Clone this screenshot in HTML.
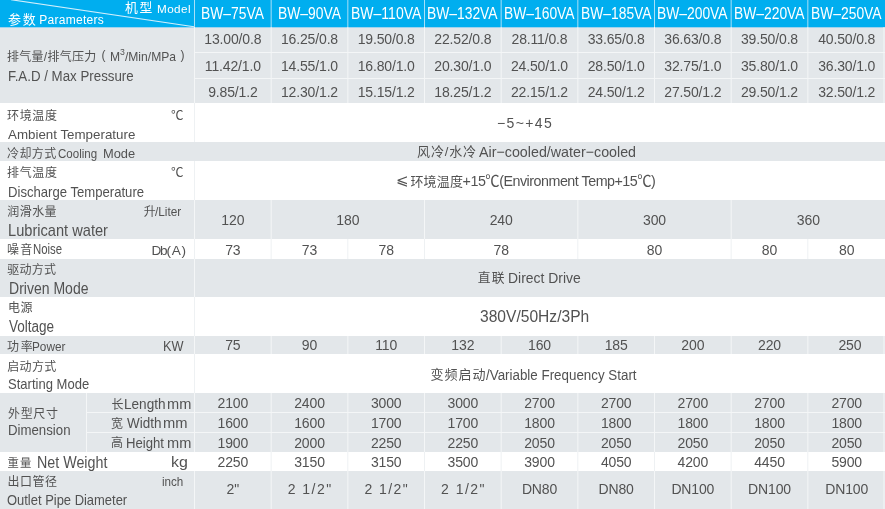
<!DOCTYPE html>
<html><head><meta charset="utf-8"><title>BW VA Parameters</title>
<style>
html,body{margin:0;padding:0;background:#fff;}
#p{position:relative;width:885px;height:509px;overflow:hidden;background:#fff;font-family:"Liberation Sans","Noto Sans CJK SC",sans-serif;}
.r{position:absolute;}
.t{position:absolute;white-space:nowrap;}
.n{font-family:"Noto Sans CJK SC",sans-serif;}
.c{}
sup{font-size:0.72em;line-height:0;vertical-align:0.62em;}
</style></head><body><div id="p">
<div class="r" style="left:0px;top:0px;width:885px;height:27px;background:#00aeef"></div>
<div class="r" style="left:0px;top:27px;width:885px;height:76px;background:#e3e7ea"></div>
<div class="r" style="left:0px;top:142px;width:885px;height:19px;background:#e3e7ea"></div>
<div class="r" style="left:0px;top:200px;width:885px;height:39px;background:#e3e7ea"></div>
<div class="r" style="left:0px;top:259px;width:885px;height:38px;background:#e3e7ea"></div>
<div class="r" style="left:0px;top:336px;width:885px;height:18px;background:#e3e7ea"></div>
<div class="r" style="left:0px;top:393px;width:885px;height:59px;background:#e3e7ea"></div>
<div class="r" style="left:0px;top:471px;width:885px;height:38px;background:#e3e7ea"></div>
<div class="r" style="left:195px;top:52px;width:690px;height:1px;background:#f4f6f7"></div>
<div class="r" style="left:0px;top:27px;width:885px;height:1px;background:#9fd3ee"></div>
<div class="r" style="left:195px;top:78px;width:690px;height:1px;background:#f4f6f7"></div>
<div class="r" style="left:87px;top:412px;width:798px;height:1px;background:#f4f6f7"></div>
<div class="r" style="left:87px;top:432px;width:798px;height:1px;background:#f4f6f7"></div>
<svg class="r" style="left:0;top:0" width="885" height="509" stroke-width="1"><line x1="194.50" y1="0" x2="194.50" y2="27" stroke="#a8e0f8"/><line x1="271.17" y1="0" x2="271.17" y2="27" stroke="#a8e0f8"/><line x1="347.83" y1="0" x2="347.83" y2="27" stroke="#a8e0f8"/><line x1="424.50" y1="0" x2="424.50" y2="27" stroke="#a8e0f8"/><line x1="501.17" y1="0" x2="501.17" y2="27" stroke="#a8e0f8"/><line x1="577.83" y1="0" x2="577.83" y2="27" stroke="#a8e0f8"/><line x1="654.50" y1="0" x2="654.50" y2="27" stroke="#a8e0f8"/><line x1="731.17" y1="0" x2="731.17" y2="27" stroke="#a8e0f8"/><line x1="807.83" y1="0" x2="807.83" y2="27" stroke="#a8e0f8"/><line x1="194.50" y1="27" x2="194.50" y2="103" stroke="#f4f6f7"/><line x1="271.17" y1="27" x2="271.17" y2="103" stroke="#f4f6f7"/><line x1="347.83" y1="27" x2="347.83" y2="103" stroke="#f4f6f7"/><line x1="424.50" y1="27" x2="424.50" y2="103" stroke="#f4f6f7"/><line x1="501.17" y1="27" x2="501.17" y2="103" stroke="#f4f6f7"/><line x1="577.83" y1="27" x2="577.83" y2="103" stroke="#f4f6f7"/><line x1="654.50" y1="27" x2="654.50" y2="103" stroke="#f4f6f7"/><line x1="731.17" y1="27" x2="731.17" y2="103" stroke="#f4f6f7"/><line x1="807.83" y1="27" x2="807.83" y2="103" stroke="#f4f6f7"/><line x1="194.50" y1="103" x2="194.50" y2="142" stroke="#eef1f3"/><line x1="194.50" y1="161" x2="194.50" y2="200" stroke="#eef1f3"/><line x1="194.50" y1="200" x2="194.50" y2="239" stroke="#f4f6f7"/><line x1="271.17" y1="200" x2="271.17" y2="239" stroke="#f4f6f7"/><line x1="424.50" y1="200" x2="424.50" y2="239" stroke="#f4f6f7"/><line x1="577.83" y1="200" x2="577.83" y2="239" stroke="#f4f6f7"/><line x1="731.17" y1="200" x2="731.17" y2="239" stroke="#f4f6f7"/><line x1="194.50" y1="239" x2="194.50" y2="259" stroke="#eef1f3"/><line x1="271.17" y1="239" x2="271.17" y2="259" stroke="#eef1f3"/><line x1="347.83" y1="239" x2="347.83" y2="259" stroke="#eef1f3"/><line x1="424.50" y1="239" x2="424.50" y2="259" stroke="#eef1f3"/><line x1="577.83" y1="239" x2="577.83" y2="259" stroke="#eef1f3"/><line x1="731.17" y1="239" x2="731.17" y2="259" stroke="#eef1f3"/><line x1="807.83" y1="239" x2="807.83" y2="259" stroke="#eef1f3"/><line x1="194.50" y1="259" x2="194.50" y2="297" stroke="#f4f6f7"/><line x1="194.50" y1="297" x2="194.50" y2="336" stroke="#eef1f3"/><line x1="194.50" y1="336" x2="194.50" y2="354" stroke="#f4f6f7"/><line x1="271.17" y1="336" x2="271.17" y2="354" stroke="#f4f6f7"/><line x1="347.83" y1="336" x2="347.83" y2="354" stroke="#f4f6f7"/><line x1="424.50" y1="336" x2="424.50" y2="354" stroke="#f4f6f7"/><line x1="501.17" y1="336" x2="501.17" y2="354" stroke="#f4f6f7"/><line x1="577.83" y1="336" x2="577.83" y2="354" stroke="#f4f6f7"/><line x1="654.50" y1="336" x2="654.50" y2="354" stroke="#f4f6f7"/><line x1="731.17" y1="336" x2="731.17" y2="354" stroke="#f4f6f7"/><line x1="807.83" y1="336" x2="807.83" y2="354" stroke="#f4f6f7"/><line x1="194.50" y1="354" x2="194.50" y2="393" stroke="#eef1f3"/><line x1="194.50" y1="393" x2="194.50" y2="452" stroke="#f4f6f7"/><line x1="271.17" y1="393" x2="271.17" y2="452" stroke="#f4f6f7"/><line x1="347.83" y1="393" x2="347.83" y2="452" stroke="#f4f6f7"/><line x1="424.50" y1="393" x2="424.50" y2="452" stroke="#f4f6f7"/><line x1="501.17" y1="393" x2="501.17" y2="452" stroke="#f4f6f7"/><line x1="577.83" y1="393" x2="577.83" y2="452" stroke="#f4f6f7"/><line x1="654.50" y1="393" x2="654.50" y2="452" stroke="#f4f6f7"/><line x1="731.17" y1="393" x2="731.17" y2="452" stroke="#f4f6f7"/><line x1="807.83" y1="393" x2="807.83" y2="452" stroke="#f4f6f7"/><line x1="86.5" y1="393" x2="86.5" y2="452" stroke="#f4f6f7"/><line x1="271.17" y1="452" x2="271.17" y2="471" stroke="#eef1f3"/><line x1="347.83" y1="452" x2="347.83" y2="471" stroke="#eef1f3"/><line x1="424.50" y1="452" x2="424.50" y2="471" stroke="#eef1f3"/><line x1="501.17" y1="452" x2="501.17" y2="471" stroke="#eef1f3"/><line x1="577.83" y1="452" x2="577.83" y2="471" stroke="#eef1f3"/><line x1="654.50" y1="452" x2="654.50" y2="471" stroke="#eef1f3"/><line x1="731.17" y1="452" x2="731.17" y2="471" stroke="#eef1f3"/><line x1="807.83" y1="452" x2="807.83" y2="471" stroke="#eef1f3"/><line x1="194.50" y1="471" x2="194.50" y2="509" stroke="#f4f6f7"/><line x1="271.17" y1="471" x2="271.17" y2="509" stroke="#f4f6f7"/><line x1="347.83" y1="471" x2="347.83" y2="509" stroke="#f4f6f7"/><line x1="424.50" y1="471" x2="424.50" y2="509" stroke="#f4f6f7"/><line x1="501.17" y1="471" x2="501.17" y2="509" stroke="#f4f6f7"/><line x1="577.83" y1="471" x2="577.83" y2="509" stroke="#f4f6f7"/><line x1="654.50" y1="471" x2="654.50" y2="509" stroke="#f4f6f7"/><line x1="731.17" y1="471" x2="731.17" y2="509" stroke="#f4f6f7"/><line x1="807.83" y1="471" x2="807.83" y2="509" stroke="#f4f6f7"/><line x1="884" y1="27" x2="884" y2="103" stroke="#f4f6f7"/><line x1="884" y1="336" x2="884" y2="354" stroke="#f4f6f7"/><line x1="884" y1="393" x2="884" y2="452" stroke="#f4f6f7"/><line x1="884" y1="471" x2="884" y2="509" stroke="#f4f6f7"/><line x1="11" y1="-0.3" x2="194" y2="26.8" stroke="#d2effc" stroke-width="1.1"/></svg>
<div class="t" style="left:82.83px;width:300px;top:32px;font-size:14px;line-height:14px;color:#525252;text-align:center;letter-spacing:-0.15px">13.00/0.8</div>
<div class="t" style="left:159.50px;width:300px;top:32px;font-size:14px;line-height:14px;color:#525252;text-align:center;letter-spacing:-0.15px">16.25/0.8</div>
<div class="t" style="left:236.17px;width:300px;top:32px;font-size:14px;line-height:14px;color:#525252;text-align:center;letter-spacing:-0.15px">19.50/0.8</div>
<div class="t" style="left:312.83px;width:300px;top:32px;font-size:14px;line-height:14px;color:#525252;text-align:center;letter-spacing:-0.15px">22.52/0.8</div>
<div class="t" style="left:389.50px;width:300px;top:32px;font-size:14px;line-height:14px;color:#525252;text-align:center;letter-spacing:-0.15px">28.11/0.8</div>
<div class="t" style="left:466.17px;width:300px;top:32px;font-size:14px;line-height:14px;color:#525252;text-align:center;letter-spacing:-0.15px">33.65/0.8</div>
<div class="t" style="left:542.83px;width:300px;top:32px;font-size:14px;line-height:14px;color:#525252;text-align:center;letter-spacing:-0.15px">36.63/0.8</div>
<div class="t" style="left:619.50px;width:300px;top:32px;font-size:14px;line-height:14px;color:#525252;text-align:center;letter-spacing:-0.15px">39.50/0.8</div>
<div class="t" style="left:696.67px;width:300px;top:32px;font-size:14px;line-height:14px;color:#525252;text-align:center;letter-spacing:-0.15px">40.50/0.8</div>
<div class="t" style="left:82.83px;width:300px;top:59px;font-size:14px;line-height:14px;color:#525252;text-align:center;letter-spacing:-0.15px">11.42/1.0</div>
<div class="t" style="left:159.50px;width:300px;top:59px;font-size:14px;line-height:14px;color:#525252;text-align:center;letter-spacing:-0.15px">14.55/1.0</div>
<div class="t" style="left:236.17px;width:300px;top:59px;font-size:14px;line-height:14px;color:#525252;text-align:center;letter-spacing:-0.15px">16.80/1.0</div>
<div class="t" style="left:312.83px;width:300px;top:59px;font-size:14px;line-height:14px;color:#525252;text-align:center;letter-spacing:-0.15px">20.30/1.0</div>
<div class="t" style="left:389.50px;width:300px;top:59px;font-size:14px;line-height:14px;color:#525252;text-align:center;letter-spacing:-0.15px">24.50/1.0</div>
<div class="t" style="left:466.17px;width:300px;top:59px;font-size:14px;line-height:14px;color:#525252;text-align:center;letter-spacing:-0.15px">28.50/1.0</div>
<div class="t" style="left:542.83px;width:300px;top:59px;font-size:14px;line-height:14px;color:#525252;text-align:center;letter-spacing:-0.15px">32.75/1.0</div>
<div class="t" style="left:619.50px;width:300px;top:59px;font-size:14px;line-height:14px;color:#525252;text-align:center;letter-spacing:-0.15px">35.80/1.0</div>
<div class="t" style="left:696.67px;width:300px;top:59px;font-size:14px;line-height:14px;color:#525252;text-align:center;letter-spacing:-0.15px">36.30/1.0</div>
<div class="t" style="left:82.83px;width:300px;top:85px;font-size:14px;line-height:14px;color:#525252;text-align:center;letter-spacing:-0.15px">9.85/1.2</div>
<div class="t" style="left:159.50px;width:300px;top:85px;font-size:14px;line-height:14px;color:#525252;text-align:center;letter-spacing:-0.15px">12.30/1.2</div>
<div class="t" style="left:236.17px;width:300px;top:85px;font-size:14px;line-height:14px;color:#525252;text-align:center;letter-spacing:-0.15px">15.15/1.2</div>
<div class="t" style="left:312.83px;width:300px;top:85px;font-size:14px;line-height:14px;color:#525252;text-align:center;letter-spacing:-0.15px">18.25/1.2</div>
<div class="t" style="left:389.50px;width:300px;top:85px;font-size:14px;line-height:14px;color:#525252;text-align:center;letter-spacing:-0.15px">22.15/1.2</div>
<div class="t" style="left:466.17px;width:300px;top:85px;font-size:14px;line-height:14px;color:#525252;text-align:center;letter-spacing:-0.15px">24.50/1.2</div>
<div class="t" style="left:542.83px;width:300px;top:85px;font-size:14px;line-height:14px;color:#525252;text-align:center;letter-spacing:-0.15px">27.50/1.2</div>
<div class="t" style="left:619.50px;width:300px;top:85px;font-size:14px;line-height:14px;color:#525252;text-align:center;letter-spacing:-0.15px">29.50/1.2</div>
<div class="t" style="left:696.67px;width:300px;top:85px;font-size:14px;line-height:14px;color:#525252;text-align:center;letter-spacing:-0.15px">32.50/1.2</div>
<div class="t" style="left:82.83px;width:300px;top:213px;font-size:14px;line-height:14px;color:#525252;text-align:center;letter-spacing:-0.15px">120</div>
<div class="t" style="left:197.83px;width:300px;top:213px;font-size:14px;line-height:14px;color:#525252;text-align:center;letter-spacing:-0.15px">180</div>
<div class="t" style="left:351.17px;width:300px;top:213px;font-size:14px;line-height:14px;color:#525252;text-align:center;letter-spacing:-0.15px">240</div>
<div class="t" style="left:504.50px;width:300px;top:213px;font-size:14px;line-height:14px;color:#525252;text-align:center;letter-spacing:-0.15px">300</div>
<div class="t" style="left:658.33px;width:300px;top:213px;font-size:14px;line-height:14px;color:#525252;text-align:center;letter-spacing:-0.15px">360</div>
<div class="t" style="left:82.83px;width:300px;top:243px;font-size:14px;line-height:14px;color:#525252;text-align:center;letter-spacing:-0.15px">73</div>
<div class="t" style="left:159.50px;width:300px;top:243px;font-size:14px;line-height:14px;color:#525252;text-align:center;letter-spacing:-0.15px">73</div>
<div class="t" style="left:236.17px;width:300px;top:243px;font-size:14px;line-height:14px;color:#525252;text-align:center;letter-spacing:-0.15px">78</div>
<div class="t" style="left:351.17px;width:300px;top:243px;font-size:14px;line-height:14px;color:#525252;text-align:center;letter-spacing:-0.15px">78</div>
<div class="t" style="left:504.50px;width:300px;top:243px;font-size:14px;line-height:14px;color:#525252;text-align:center;letter-spacing:-0.15px">80</div>
<div class="t" style="left:619.50px;width:300px;top:243px;font-size:14px;line-height:14px;color:#525252;text-align:center;letter-spacing:-0.15px">80</div>
<div class="t" style="left:696.67px;width:300px;top:243px;font-size:14px;line-height:14px;color:#525252;text-align:center;letter-spacing:-0.15px">80</div>
<div class="t" style="left:82.83px;width:300px;top:338px;font-size:14px;line-height:14px;color:#525252;text-align:center;letter-spacing:-0.15px">75</div>
<div class="t" style="left:159.50px;width:300px;top:338px;font-size:14px;line-height:14px;color:#525252;text-align:center;letter-spacing:-0.15px">90</div>
<div class="t" style="left:236.17px;width:300px;top:338px;font-size:14px;line-height:14px;color:#525252;text-align:center;letter-spacing:-0.15px">110</div>
<div class="t" style="left:312.83px;width:300px;top:338px;font-size:14px;line-height:14px;color:#525252;text-align:center;letter-spacing:-0.15px">132</div>
<div class="t" style="left:389.50px;width:300px;top:338px;font-size:14px;line-height:14px;color:#525252;text-align:center;letter-spacing:-0.15px">160</div>
<div class="t" style="left:466.17px;width:300px;top:338px;font-size:14px;line-height:14px;color:#525252;text-align:center;letter-spacing:-0.15px">185</div>
<div class="t" style="left:542.83px;width:300px;top:338px;font-size:14px;line-height:14px;color:#525252;text-align:center;letter-spacing:-0.15px">200</div>
<div class="t" style="left:619.50px;width:300px;top:338px;font-size:14px;line-height:14px;color:#525252;text-align:center;letter-spacing:-0.15px">220</div>
<div class="t" style="left:699.87px;width:300px;top:338px;font-size:14px;line-height:14px;color:#525252;text-align:center;letter-spacing:-0.15px">250</div>
<div class="t" style="left:82.83px;width:300px;top:396px;font-size:14px;line-height:14px;color:#525252;text-align:center;letter-spacing:-0.15px">2100</div>
<div class="t" style="left:159.50px;width:300px;top:396px;font-size:14px;line-height:14px;color:#525252;text-align:center;letter-spacing:-0.15px">2400</div>
<div class="t" style="left:236.17px;width:300px;top:396px;font-size:14px;line-height:14px;color:#525252;text-align:center;letter-spacing:-0.15px">3000</div>
<div class="t" style="left:312.83px;width:300px;top:396px;font-size:14px;line-height:14px;color:#525252;text-align:center;letter-spacing:-0.15px">3000</div>
<div class="t" style="left:389.50px;width:300px;top:396px;font-size:14px;line-height:14px;color:#525252;text-align:center;letter-spacing:-0.15px">2700</div>
<div class="t" style="left:466.17px;width:300px;top:396px;font-size:14px;line-height:14px;color:#525252;text-align:center;letter-spacing:-0.15px">2700</div>
<div class="t" style="left:542.83px;width:300px;top:396px;font-size:14px;line-height:14px;color:#525252;text-align:center;letter-spacing:-0.15px">2700</div>
<div class="t" style="left:619.50px;width:300px;top:396px;font-size:14px;line-height:14px;color:#525252;text-align:center;letter-spacing:-0.15px">2700</div>
<div class="t" style="left:696.67px;width:300px;top:396px;font-size:14px;line-height:14px;color:#525252;text-align:center;letter-spacing:-0.15px">2700</div>
<div class="t" style="left:82.83px;width:300px;top:416px;font-size:14px;line-height:14px;color:#525252;text-align:center;letter-spacing:-0.15px">1600</div>
<div class="t" style="left:159.50px;width:300px;top:416px;font-size:14px;line-height:14px;color:#525252;text-align:center;letter-spacing:-0.15px">1600</div>
<div class="t" style="left:236.17px;width:300px;top:416px;font-size:14px;line-height:14px;color:#525252;text-align:center;letter-spacing:-0.15px">1700</div>
<div class="t" style="left:312.83px;width:300px;top:416px;font-size:14px;line-height:14px;color:#525252;text-align:center;letter-spacing:-0.15px">1700</div>
<div class="t" style="left:389.50px;width:300px;top:416px;font-size:14px;line-height:14px;color:#525252;text-align:center;letter-spacing:-0.15px">1800</div>
<div class="t" style="left:466.17px;width:300px;top:416px;font-size:14px;line-height:14px;color:#525252;text-align:center;letter-spacing:-0.15px">1800</div>
<div class="t" style="left:542.83px;width:300px;top:416px;font-size:14px;line-height:14px;color:#525252;text-align:center;letter-spacing:-0.15px">1800</div>
<div class="t" style="left:619.50px;width:300px;top:416px;font-size:14px;line-height:14px;color:#525252;text-align:center;letter-spacing:-0.15px">1800</div>
<div class="t" style="left:696.67px;width:300px;top:416px;font-size:14px;line-height:14px;color:#525252;text-align:center;letter-spacing:-0.15px">1800</div>
<div class="t" style="left:82.83px;width:300px;top:436px;font-size:14px;line-height:14px;color:#525252;text-align:center;letter-spacing:-0.15px">1900</div>
<div class="t" style="left:159.50px;width:300px;top:436px;font-size:14px;line-height:14px;color:#525252;text-align:center;letter-spacing:-0.15px">2000</div>
<div class="t" style="left:236.17px;width:300px;top:436px;font-size:14px;line-height:14px;color:#525252;text-align:center;letter-spacing:-0.15px">2250</div>
<div class="t" style="left:312.83px;width:300px;top:436px;font-size:14px;line-height:14px;color:#525252;text-align:center;letter-spacing:-0.15px">2250</div>
<div class="t" style="left:389.50px;width:300px;top:436px;font-size:14px;line-height:14px;color:#525252;text-align:center;letter-spacing:-0.15px">2050</div>
<div class="t" style="left:466.17px;width:300px;top:436px;font-size:14px;line-height:14px;color:#525252;text-align:center;letter-spacing:-0.15px">2050</div>
<div class="t" style="left:542.83px;width:300px;top:436px;font-size:14px;line-height:14px;color:#525252;text-align:center;letter-spacing:-0.15px">2050</div>
<div class="t" style="left:619.50px;width:300px;top:436px;font-size:14px;line-height:14px;color:#525252;text-align:center;letter-spacing:-0.15px">2050</div>
<div class="t" style="left:696.67px;width:300px;top:436px;font-size:14px;line-height:14px;color:#525252;text-align:center;letter-spacing:-0.15px">2050</div>
<div class="t" style="left:82.83px;width:300px;top:455px;font-size:14px;line-height:14px;color:#525252;text-align:center;letter-spacing:-0.15px">2250</div>
<div class="t" style="left:159.50px;width:300px;top:455px;font-size:14px;line-height:14px;color:#525252;text-align:center;letter-spacing:-0.15px">3150</div>
<div class="t" style="left:236.17px;width:300px;top:455px;font-size:14px;line-height:14px;color:#525252;text-align:center;letter-spacing:-0.15px">3150</div>
<div class="t" style="left:312.83px;width:300px;top:455px;font-size:14px;line-height:14px;color:#525252;text-align:center;letter-spacing:-0.15px">3500</div>
<div class="t" style="left:389.50px;width:300px;top:455px;font-size:14px;line-height:14px;color:#525252;text-align:center;letter-spacing:-0.15px">3900</div>
<div class="t" style="left:466.17px;width:300px;top:455px;font-size:14px;line-height:14px;color:#525252;text-align:center;letter-spacing:-0.15px">4050</div>
<div class="t" style="left:542.83px;width:300px;top:455px;font-size:14px;line-height:14px;color:#525252;text-align:center;letter-spacing:-0.15px">4200</div>
<div class="t" style="left:619.50px;width:300px;top:455px;font-size:14px;line-height:14px;color:#525252;text-align:center;letter-spacing:-0.15px">4450</div>
<div class="t" style="left:696.67px;width:300px;top:455px;font-size:14px;line-height:14px;color:#525252;text-align:center;letter-spacing:-0.15px">5900</div>
<div class="t" style="left:82.83px;width:300px;top:482px;font-size:14px;line-height:14px;color:#525252;text-align:center;letter-spacing:-0.15px">2"</div>
<div class="t" style="left:160.20px;width:300px;top:482px;font-size:14px;line-height:14px;color:#525252;text-align:center;letter-spacing:1.45px">2 1/2"</div>
<div class="t" style="left:236.87px;width:300px;top:482px;font-size:14px;line-height:14px;color:#525252;text-align:center;letter-spacing:1.45px">2 1/2"</div>
<div class="t" style="left:313.53px;width:300px;top:482px;font-size:14px;line-height:14px;color:#525252;text-align:center;letter-spacing:1.45px">2 1/2"</div>
<div class="t" style="left:389.50px;width:300px;top:482px;font-size:14px;line-height:14px;color:#525252;text-align:center;letter-spacing:-0.15px">DN80</div>
<div class="t" style="left:466.17px;width:300px;top:482px;font-size:14px;line-height:14px;color:#525252;text-align:center;letter-spacing:-0.15px">DN80</div>
<div class="t" style="left:542.83px;width:300px;top:482px;font-size:14px;line-height:14px;color:#525252;text-align:center;letter-spacing:-0.15px">DN100</div>
<div class="t" style="left:619.50px;width:300px;top:482px;font-size:14px;line-height:14px;color:#525252;text-align:center;letter-spacing:-0.15px">DN100</div>
<div class="t" style="left:696.67px;width:300px;top:482px;font-size:14px;line-height:14px;color:#525252;text-align:center;letter-spacing:-0.15px">DN100</div>
<div class="t" style="left:8.00px;top:13px;font-size:13px;line-height:13px;color:#ffffff;letter-spacing:1.800px;"><span style="font-size:13px">参数</span></div>
<div class="t" style="left:39.20px;top:14px;font-size:12px;line-height:12px;color:#ffffff;letter-spacing:0.289px;">Parameters</div>
<div class="t" style="left:124.90px;top:2px;font-size:12.8px;line-height:12.8px;color:#ffffff;letter-spacing:1.900px;"><span style="font-size:12.8px">机型</span></div>
<div class="t" style="left:157.00px;top:3px;font-size:11.7px;line-height:11.7px;color:#ffffff;letter-spacing:0.425px;">Model</div>
<div class="t" style="left:201.02px;top:5px;font-size:17px;line-height:17px;color:#ffffff;transform:scaleX(0.8158);transform-origin:0 0;">BW–75VA</div>
<div class="t" style="left:277.68px;top:5px;font-size:17px;line-height:17px;color:#ffffff;transform:scaleX(0.8158);transform-origin:0 0;">BW–90VA</div>
<div class="t" style="left:350.74px;top:5px;font-size:17px;line-height:17px;color:#ffffff;transform:scaleX(0.8238);transform-origin:0 0;">BW–110VA</div>
<div class="t" style="left:427.42px;top:5px;font-size:17px;line-height:17px;color:#ffffff;transform:scaleX(0.8141);transform-origin:0 0;">BW–132VA</div>
<div class="t" style="left:504.09px;top:5px;font-size:17px;line-height:17px;color:#ffffff;transform:scaleX(0.8141);transform-origin:0 0;">BW–160VA</div>
<div class="t" style="left:580.75px;top:5px;font-size:17px;line-height:17px;color:#ffffff;transform:scaleX(0.8141);transform-origin:0 0;">BW–185VA</div>
<div class="t" style="left:657.42px;top:5px;font-size:17px;line-height:17px;color:#ffffff;transform:scaleX(0.8141);transform-origin:0 0;">BW–200VA</div>
<div class="t" style="left:734.09px;top:5px;font-size:17px;line-height:17px;color:#ffffff;transform:scaleX(0.8141);transform-origin:0 0;">BW–220VA</div>
<div class="t" style="left:811.25px;top:5px;font-size:17px;line-height:17px;color:#ffffff;transform:scaleX(0.8141);transform-origin:0 0;">BW–250VA</div>
<div class="t" style="left:7.00px;top:51px;font-size:12px;line-height:12px;color:#525252;letter-spacing:0.286px;"><span style="font-size:12px">排气量</span>/<span style="font-size:12px">排气压力</span></div>
<div class="t" style="left:101.60px;top:49px;font-size:12px;line-height:12px;color:#525252;">(</div>
<div class="t" style="left:109.79px;top:50px;font-size:13.3px;line-height:13.3px;color:#525252;transform:scaleX(0.9099);transform-origin:0 0;">M<sup>3</sup>/Min/MPa</div>
<div class="t" style="left:180.40px;top:49px;font-size:12px;line-height:12px;color:#525252;">)</div>
<div class="t" style="left:8.14px;top:70px;font-size:13.8px;line-height:13.8px;color:#525252;transform:scaleX(0.9643);transform-origin:0 0;">F.A.D / Max Pressure</div>
<div class="t" style="left:7.00px;top:110px;font-size:12px;line-height:12px;color:#525252;letter-spacing:0.633px;"><span style="font-size:12px">环境温度</span></div>
<div class="t" style="left:171.00px;top:110px;font-size:12.5px;line-height:12.5px;color:#525252;">℃</div>
<div class="t" style="left:8.40px;top:128px;font-size:13.6px;line-height:13.6px;color:#525252;transform:scaleX(0.9814);transform-origin:0 0;">Ambient Temperature</div>
<div class="t" style="left:7.00px;top:148px;font-size:12px;line-height:12px;color:#525252;letter-spacing:0.400px;"><span style="font-size:12px">冷却方式</span></div>
<div class="t" style="left:58.13px;top:147px;font-size:13.3px;line-height:13.3px;color:#525252;transform:scaleX(0.8674);transform-origin:0 0;">Cooling</div>
<div class="t" style="left:102.93px;top:147px;font-size:13.3px;line-height:13.3px;color:#525252;transform:scaleX(0.9677);transform-origin:0 0;">Mode</div>
<div class="t" style="left:7.00px;top:167px;font-size:12px;line-height:12px;color:#525252;letter-spacing:0.667px;"><span style="font-size:12px">排气温度</span></div>
<div class="t" style="left:171.00px;top:167px;font-size:12.5px;line-height:12.5px;color:#525252;">℃</div>
<div class="t" style="left:7.76px;top:186px;font-size:13.9px;line-height:13.9px;color:#525252;transform:scaleX(0.9441);transform-origin:0 0;">Discharge Temperature</div>
<div class="t" style="left:7.35px;top:206px;font-size:12px;line-height:12px;color:#525252;letter-spacing:0.417px;"><span style="font-size:12px">润滑水量</span></div>
<div class="t" style="left:143.70px;top:206px;font-size:12px;line-height:12px;color:#525252;"><span style="font-size:12px">升</span></div>
<div class="t" style="left:155.40px;top:206px;font-size:12.5px;line-height:12.5px;color:#525252;transform:scaleX(0.9464);transform-origin:0 0;">/Liter</div>
<div class="t" style="left:7.82px;top:223px;font-size:16.6px;line-height:16.6px;color:#525252;transform:scaleX(0.8812);transform-origin:0 0;">Lubricant water</div>
<div class="t" style="left:7.00px;top:244px;font-size:12px;line-height:12px;color:#525252;letter-spacing:1.300px;"><span style="font-size:12px">噪音</span></div>
<div class="t" style="left:32.87px;top:243px;font-size:13.8px;line-height:13.8px;color:#525252;transform:scaleX(0.8265);transform-origin:0 0;">Noise</div>
<div class="t" style="left:151.40px;top:244px;font-size:13.6px;line-height:13.6px;color:#525252;letter-spacing:-1.167px;">Db( A )</div>
<div class="t" style="left:7.30px;top:264px;font-size:12px;line-height:12px;color:#525252;letter-spacing:0.233px;"><span style="font-size:12px">驱动方式</span></div>
<div class="t" style="left:8.75px;top:280px;font-size:16.5px;line-height:16.5px;color:#525252;transform:scaleX(0.8500);transform-origin:0 0;">Driven Mode</div>
<div class="t" style="left:7.90px;top:302px;font-size:12px;line-height:12px;color:#525252;letter-spacing:0.600px;"><span style="font-size:12px">电源</span></div>
<div class="t" style="left:9.10px;top:319px;font-size:16px;line-height:16px;color:#525252;transform:scaleX(0.8453);transform-origin:0 0;">Voltage</div>
<div class="t" style="left:7.00px;top:341px;font-size:12px;line-height:12px;color:#525252;letter-spacing:1.700px;"><span style="font-size:12px">功率</span></div>
<div class="t" style="left:32.40px;top:340px;font-size:13.1px;line-height:13.1px;color:#525252;transform:scaleX(0.9000);transform-origin:0 0;">Power</div>
<div class="t" style="left:162.79px;top:339px;font-size:14px;line-height:14px;color:#525252;transform:scaleX(0.9095);transform-origin:0 0;">KW</div>
<div class="t" style="left:7.30px;top:361px;font-size:12px;line-height:12px;color:#525252;letter-spacing:0.300px;"><span style="font-size:12px">启动方式</span></div>
<div class="t" style="left:7.62px;top:377px;font-size:14.8px;line-height:14.8px;color:#525252;transform:scaleX(0.8813);transform-origin:0 0;">Starting Mode</div>
<div class="t" style="left:8.00px;top:408px;font-size:12px;line-height:12px;color:#525252;letter-spacing:0.633px;"><span style="font-size:12px">外型尺寸</span></div>
<div class="t" style="left:8.24px;top:424px;font-size:13.8px;line-height:13.8px;color:#525252;transform:scaleX(0.9587);transform-origin:0 0;">Dimension</div>
<div class="t" style="left:111.40px;top:399px;font-size:12px;line-height:12px;color:#525252;"><span style="font-size:12px">长</span></div>
<div class="t" style="left:123.61px;top:398px;font-size:13.8px;line-height:13.8px;color:#525252;transform:scaleX(0.9850);transform-origin:0 0;">Length</div>
<div class="t" style="left:166.74px;top:398px;font-size:13.8px;line-height:13.8px;color:#525252;transform:scaleX(1.0571);transform-origin:0 0;">mm</div>
<div class="t" style="left:111.10px;top:418px;font-size:12px;line-height:12px;color:#525252;"><span style="font-size:12px">宽</span></div>
<div class="t" style="left:126.70px;top:417px;font-size:13.8px;line-height:13.8px;color:#525252;transform:scaleX(0.9765);transform-origin:0 0;">Width</div>
<div class="t" style="left:162.63px;top:417px;font-size:13.8px;line-height:13.8px;color:#525252;transform:scaleX(1.0667);transform-origin:0 0;">mm</div>
<div class="t" style="left:111.10px;top:437px;font-size:12px;line-height:12px;color:#525252;"><span style="font-size:12px">高</span></div>
<div class="t" style="left:125.95px;top:437px;font-size:13.8px;line-height:13.8px;color:#525252;transform:scaleX(0.9513);transform-origin:0 0;">Height</div>
<div class="t" style="left:166.74px;top:437px;font-size:13.8px;line-height:13.8px;color:#525252;transform:scaleX(1.0571);transform-origin:0 0;">mm</div>
<div class="t" style="left:7.40px;top:458px;font-size:11.3px;line-height:11.3px;color:#525252;letter-spacing:1.300px;"><span style="font-size:11.3px">重量</span></div>
<div class="t" style="left:36.71px;top:455px;font-size:16px;line-height:16px;color:#525252;transform:scaleX(0.8923);transform-origin:0 0;">Net Weight</div>
<div class="t" style="left:170.90px;top:455px;font-size:14.5px;line-height:14.5px;color:#525252;transform:scaleX(1.1000);transform-origin:0 0;">kg</div>
<div class="t" style="left:7.40px;top:476px;font-size:12px;line-height:12px;color:#525252;letter-spacing:0.567px;"><span style="font-size:12px">出口管径</span></div>
<div class="t" style="left:162.08px;top:476px;font-size:12.6px;line-height:12.6px;color:#525252;transform:scaleX(0.9238);transform-origin:0 0;">inch</div>
<div class="t" style="left:7.18px;top:493px;font-size:14.1px;line-height:14.1px;color:#525252;transform:scaleX(0.9186);transform-origin:0 0;">Outlet Pipe Diameter</div>
<div class="t" style="left:496.90px;top:116px;font-size:14px;line-height:14px;color:#525252;letter-spacing:1.400px;">−5~+45</div>
<div class="t" style="left:417.10px;top:145px;font-size:13px;line-height:13px;color:#525252;letter-spacing:0.800px;"><span style="font-size:13px">风冷</span>/<span style="font-size:13px">水冷</span></div>
<div class="t" style="left:479.00px;top:144px;font-size:15px;line-height:15px;color:#525252;transform:scaleX(0.9512);transform-origin:0 0;">Air−cooled/water−cooled</div>
<div class="t" style="left:396.20px;top:172px;font-size:15px;line-height:15px;color:#525252;">⩽</div>
<div class="t" style="left:410.40px;top:175px;font-size:13px;line-height:13px;color:#525252;letter-spacing:0.200px;"><span style="font-size:13px">环境温度</span></div>
<div class="t" style="left:462.60px;top:174px;font-size:14.3px;line-height:14.3px;color:#525252;letter-spacing:-0.492px;">+15℃(Environment Temp+15℃)</div>
<div class="t" style="left:477.80px;top:272px;font-size:12.8px;line-height:12.8px;color:#525252;letter-spacing:1.100px;"><span style="font-size:12.8px">直联</span></div>
<div class="t" style="left:507.64px;top:271px;font-size:14.5px;line-height:14.5px;color:#525252;transform:scaleX(0.9595);transform-origin:0 0;">Direct Drive</div>
<div class="t" style="left:479.64px;top:308px;font-size:16.2px;line-height:16.2px;color:#525252;transform:scaleX(0.9631);transform-origin:0 0;">380V/50Hz/3Ph</div>
<div class="t" style="left:430.40px;top:368px;font-size:13px;line-height:13px;color:#525252;letter-spacing:1.067px;"><span style="font-size:13px">变频启动</span></div>
<div class="t" style="left:485.50px;top:367px;font-size:15.3px;line-height:15.3px;color:#525252;transform:scaleX(0.8738);transform-origin:0 0;">/Variable Frequency Start</div>
</div></body></html>
